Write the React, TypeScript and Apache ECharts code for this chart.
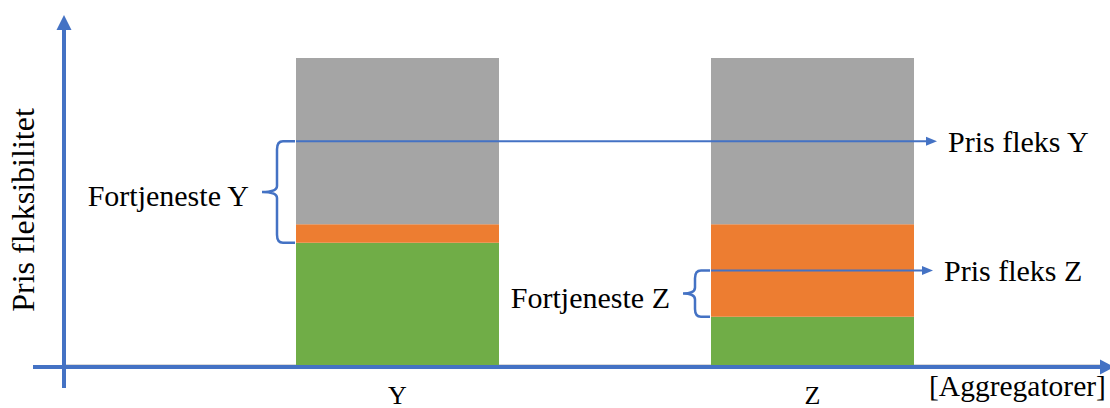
import React, { useEffect, useRef } from "react";
import * as echarts from "echarts";

// Aggregator categories and the stacked price components
const categories = ["Y", "Z"];
const baseValues = [40, 16]; // green segment
const marginValues = [6, 30]; // orange segment
const flexValues = [54, 54]; // grey segment
// Price levels marked with arrows and braces
const priceLevels = [73, 31];
const priceLabels = ["Pris fleks Y", "Pris fleks Z"];
const profitLabels = ["Fortjeneste Y", "Fortjeneste Z"];
const yAxisTitle = "Pris fleksibilitet";
const xAxisTitle = "[Aggregatorer]";

const BLUE = "#4472C4";
const FONT = "Liberation Serif";
const BAR_WIDTH = 203;

// Curly brace opening to the right; x is the right end, w the full depth
const Brace = echarts.graphic.extendShape({
  shape: { x: 0, y1: 0, y2: 0, w: 30, s: 18 },
  buildPath(ctx: any, sh: any) {
    const xr = sh.x;
    const xs = sh.x - sh.s;
    const xt = sh.x - sh.w;
    const ym = (sh.y1 + sh.y2) / 2;
    const r = Math.min(8, (sh.y2 - sh.y1) / 6);
    ctx.moveTo(xr, sh.y1);
    ctx.lineTo(xs + 6, sh.y1);
    ctx.quadraticCurveTo(xs, sh.y1, xs, sh.y1 + r);
    ctx.lineTo(xs, ym - 6);
    ctx.quadraticCurveTo(xs, ym, xt, ym);
    ctx.quadraticCurveTo(xs, ym, xs, ym + 6);
    ctx.lineTo(xs, sh.y2 - r);
    ctx.quadraticCurveTo(xs, sh.y2, xs + 6, sh.y2);
    ctx.lineTo(xr, sh.y2);
  },
});
echarts.graphic.registerShape("brace", Brace);

export default function App() {
  const ref = useRef<HTMLDivElement>(null);

  useEffect(() => {
    const chart = echarts.init(ref.current!, null, { renderer: "svg" });
    chart.setOption({
      animation: false,
      grid: { left: 190, width: 830, top: 58, bottom: 40 },
      xAxis: {
        type: "category",
        data: categories,
        axisLine: { show: false },
        axisTick: { show: false },
        axisLabel: {
          fontFamily: FONT,
          fontSize: 26,
          color: "#000",
          margin: 16,
        },
      },
      yAxis: { type: "value", min: 0, max: 100, show: false },
      series: [
        { type: "bar", stack: "p", data: baseValues, barWidth: BAR_WIDTH, itemStyle: { color: "#70AD47" } },
        { type: "bar", stack: "p", data: marginValues, barWidth: BAR_WIDTH, itemStyle: { color: "#ED7D31" } },
        { type: "bar", stack: "p", data: flexValues, barWidth: BAR_WIDTH, itemStyle: { color: "#A5A5A5" } },
      ],
    });

    const px = (i: number, v: number) => chart.convertToPixel({ gridIndex: 0 }, [i, v]) as number[];
    const zero = px(0, 0);
    const axisY = zero[1] + 1;

    const arrowEnds = [937, 933];
    const labelX = [948, 944];
    const braceDepth = [33, 27];
    const braceSpine = [18, 15];

    const elements: any[] = [
      // baseline under the bars
      { type: "line", z: 0, shape: { x1: 64, y1: axisY - 2.5, x2: 1105, y2: axisY - 2.5 }, style: { stroke: "#D9D9D9", lineWidth: 1 } },
      // x axis with arrow
      { type: "line", z: 50, shape: { x1: 33, y1: axisY, x2: 1100, y2: axisY }, style: { stroke: BLUE, lineWidth: 4 } },
      { type: "polygon", z: 50, shape: { points: [[1100, axisY - 7.5], [1100, axisY + 7.5], [1114, axisY]] }, style: { fill: BLUE } },
      // y axis with arrow
      { type: "line", z: 50, shape: { x1: 64, y1: 388, x2: 64, y2: 28 }, style: { stroke: BLUE, lineWidth: 4 } },
      { type: "polygon", z: 50, shape: { points: [[56.5, 30], [71.5, 30], [64, 15]] }, style: { fill: BLUE } },
      {
        type: "text",
        z: 50,
        x: 23,
        y: 210,
        rotation: Math.PI / 2,
        style: { text: yAxisTitle, fontFamily: FONT, fontSize: 32, fill: "#000", align: "center", verticalAlign: "middle" },
      },
      {
        type: "text",
        z: 50,
        x: 929,
        y: 386,
        style: { text: xAxisTitle, fontFamily: FONT, fontSize: 29.5, fill: "#000", align: "left", verticalAlign: "middle" },
      },
    ];

    categories.forEach((_, i) => {
      const top = px(i, priceLevels[i]);
      const low = px(i, baseValues[i]);
      const left = top[0] - BAR_WIDTH / 2;
      const yTop = top[1];
      const yLow = low[1];
      const tipX = left - 1 - braceDepth[i];
      elements.push(
        { type: "line", z: 50, shape: { x1: left, y1: yTop, x2: arrowEnds[i] - 9, y2: yTop }, style: { stroke: BLUE, lineWidth: 2 } },
        { type: "polygon", z: 50, shape: { points: [[arrowEnds[i] - 11, yTop - 4.5], [arrowEnds[i] - 11, yTop + 4.5], [arrowEnds[i], yTop]] }, style: { fill: BLUE } },
        {
          type: "text",
          z: 50,
          x: labelX[i],
          y: yTop,
          style: { text: priceLabels[i], fontFamily: FONT, fontSize: 30, fill: "#000", align: "left", verticalAlign: "middle" },
        },
        {
          type: "brace",
          z: 50,
          shape: { x: left - 1, y1: yTop, y2: yLow, w: braceDepth[i], s: braceSpine[i] },
          style: { stroke: BLUE, lineWidth: 2.5, fill: "none" },
        },
        {
          type: "text",
          z: 50,
          x: tipX - 13,
          y: (yTop + yLow) / 2 + 4,
          style: { text: profitLabels[i], fontFamily: FONT, fontSize: 30, fill: "#000", align: "right", verticalAlign: "middle" },
        }
      );
    });

    chart.setOption({ graphic: { elements } });
    return () => chart.dispose();
  }, []);

  return (
    <div
      ref={ref}
      style={{ position: "fixed", left: 0, top: 0, width: 1110, height: 408, background: "#fff" }}
    />
  );
}
